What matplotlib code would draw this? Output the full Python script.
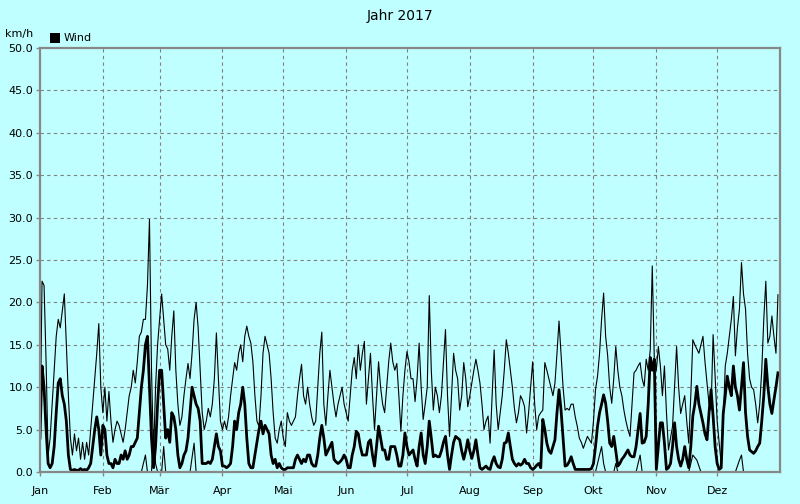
"""
Wind 2017 - Jahresübersicht (Tagesmittel, Böen, Minimum)
"""

import numpy as np
import pandas as pd
import matplotlib
matplotlib.use("Agg")
import matplotlib.pyplot as plt
from matplotlib.patches import Rectangle

# Böen (dünne Linie), ein Wert pro Tag, km/h
gust = [
    3, 22.5, 22, 13, 2, 4, 8, 12, 16, 18,
    17, 19, 21, 15, 9, 4, 2, 4.5, 2.5, 4,
    1.5, 3.5, 1.5, 3.5, 2, 5, 8, 11, 14, 17.5,
    10, 7, 10, 6, 9.5, 6, 3.5, 5, 6, 5.5,
    4.5, 3.5, 5, 7, 9, 10, 12, 10.5, 13, 16,
    16.5, 18, 18, 22, 29.8, 12, 2, 10, 15, 18,
    21, 18, 15, 14.5, 12, 16, 19, 12, 8, 5.5,
    6.5, 9, 11, 12.8, 11, 14, 18, 20, 17, 12,
    7, 5, 6, 7.5, 6.5, 8, 11, 16.4, 11, 6,
    5, 6, 5, 6.5, 9, 11, 12.9, 12, 14, 15,
    13, 16, 17.2, 16, 15.2, 13, 9, 6, 5.4, 9,
    14, 16, 15, 14, 11, 7, 4, 3.4, 5, 6,
    4, 3, 7, 6, 5.5, 6, 6.5, 9, 11, 12.7,
    9, 8, 10, 8, 6.5, 5.5, 6, 10, 14, 16.5,
    8, 5.5, 9, 12, 10, 8, 6.5, 8, 9, 10,
    8, 7, 6, 9, 12, 13.5, 11, 15, 12, 14,
    15.4, 8, 11, 14, 9, 5, 9, 13, 10, 8,
    7, 10, 13, 15.2, 13, 12, 12.8, 9, 4.8, 9,
    12, 14.2, 13, 11, 11, 8.3, 11, 15.2, 10, 6.2,
    8, 10, 20.8, 12, 7.3, 10, 9, 7, 9, 13,
    16.8, 9, 4.2, 9, 14, 12, 11, 7.3, 9, 12.9,
    11, 7.7, 9, 10.5, 12, 13.3, 12, 10.5, 8, 5,
    6, 6.6, 3.4, 9, 14.4, 8, 5, 7, 9, 12,
    15.6, 14, 12, 10, 7.5, 5.8, 7, 9, 8.5, 7.7,
    4.6, 7, 10, 13, 8, 5, 6.6, 7, 7.3, 12.9,
    12, 11, 10, 9, 10.5, 14, 17.8, 14, 10, 7.3,
    7.5, 7.3, 8, 8, 6.5, 5.4, 4, 3.5, 2.8, 3.5,
    4.2, 3.8, 3.4, 6, 9.7, 11.3, 14, 18, 21.1, 16,
    13.7, 10, 8.1, 11, 14.8, 12, 10, 9, 7.3, 6,
    5, 4.2, 8, 11.7, 12, 12.5, 12.9, 11, 10.1, 13.3,
    12, 14.4, 24.3, 13.3, 12, 14.8, 12.5, 9, 12.5, 7,
    2.6, 4, 5.4, 10, 14.8, 10, 6.9, 8, 9, 6,
    3.4, 9, 15.6, 15, 14.5, 14, 15, 16, 13, 10.5,
    8, 7.3, 16.2, 11.3, 6, 3.4, 1, 6, 12.5, 14,
    16, 18, 20.7, 13.7, 17, 19.2, 24.7, 21, 19.2, 14,
    11, 10, 9.7, 8, 5.8, 8, 12, 18, 22.5, 15.2,
    16, 18.4, 16, 14, 20.9,
]

# Mittelwind (dicke Linie), ein Wert pro Tag, km/h
wind = [
    4, 12.5, 10, 5, 1, 0.5, 1, 3, 7, 10.5,
    11, 9, 8, 6, 2, 0.3, 0.2, 0.3, 0.2, 0.2,
    0.4, 0.2, 0.3, 0.2, 0.5, 1, 3, 5, 6.5, 5,
    2, 5.5, 5, 2, 1, 1, 0.5, 1.5, 1, 1,
    2, 1.5, 2.5, 1.5, 2, 3, 3, 3.5, 4, 7,
    10, 12, 15, 16, 10, 4, 0.5, 3, 8, 12,
    12, 8, 4, 5, 3.5, 7, 6.5, 5, 2, 0.5,
    1, 2, 2.5, 4, 7, 10, 9, 8, 7.5, 6,
    1, 1, 1, 1.2, 1, 1.5, 3, 4.5, 3, 2.5,
    0.7, 0.7, 0.5, 0.7, 1, 3, 6, 5, 7, 8,
    10, 8, 4, 1, 0.5, 0.5, 2, 3.5, 5, 6,
    4.5, 5.5, 5, 4.5, 2, 1, 1.5, 0.5, 1, 0.5,
    0.3, 0.3, 0.5, 0.5, 0.5, 0.5, 1.5, 2, 1.5, 1,
    1.5, 1.2, 2, 2, 1, 0.7, 0.7, 2, 4, 5.5,
    4, 2, 2.5, 3, 3.5, 1.5, 1.2, 1, 1.2, 1.5,
    2, 1.5, 0.5, 0.5, 2, 3, 4.8, 4.5, 3, 2,
    2, 2, 3.5, 3.8, 2, 0.7, 3, 5.4, 4, 2.6,
    2.6, 1.5, 1.5, 3, 3, 3, 2, 0.7, 0.7, 2,
    4.6, 3, 2, 2.3, 2.6, 1.5, 0.7, 3, 4.6, 2,
    1, 3, 6, 4, 1.8, 2, 1.8, 1.8, 2.5, 3.5,
    4.2, 2, 0.3, 2, 3.5, 4.2, 4, 3.8, 2.5, 1.5,
    2.5, 3.8, 2.5, 1.6, 2.5, 3.8, 2, 0.5, 0.3, 0.5,
    0.7, 0.4, 0.3, 1.2, 1.8, 1, 0.6, 0.5, 1.5, 3.4,
    3.5, 4.6, 3, 1.5, 1, 0.7, 1, 0.8, 1, 1.5,
    1, 1, 0.5, 0.3, 0.5, 0.8, 1, 0.5, 6.2, 5,
    3.4, 2.5, 2.2, 3, 3.8, 7, 9.7, 7.3, 4, 0.7,
    0.8, 1.2, 1.8, 1, 0.3, 0.3, 0.3, 0.3, 0.3, 0.3,
    0.3, 0.3, 0.4, 1, 3, 5.4, 7, 8, 9.1, 8.1,
    6, 3.4, 3, 4.2, 2.5, 0.7, 1, 1.5, 1.8, 2.2,
    2.6, 2, 1.8, 1.8, 3, 5, 6.9, 3.4, 3.5, 4.2,
    8, 13.5, 12, 13.3, 0.3, 3, 5.8, 5.8, 3.4, 0.3,
    0.5, 1, 3, 5.8, 3, 1.5, 0.7, 1.5, 3, 1.5,
    0.5, 3, 6.6, 8, 10.1, 8, 6.9, 5.8, 4.5, 3.8,
    7, 9.7, 6.6, 3, 1, 0.3, 0.5, 6.9, 9, 11.3,
    10, 9, 12.5, 10, 9, 7.3, 10, 12.9, 7, 4.2,
    2.6, 2.4, 2.2, 2.5, 3, 3.4, 6, 9, 13.3, 10.1,
    8, 6.9, 8.5, 10, 11.7,
]

# Minimum (dünne Linie unten), nur wenige Ausschläge
min_day = [0, 50, 52, 53, 55, 56, 57, 58, 60, 61, 62, 74, 76, 77,
           274, 276, 277, 278, 279, 283, 284, 285, 294, 296, 297,
           320, 322, 324, 326, 343, 345, 346, 347, 364]
min_val = [0, 0, 2, 0, 0, 5, 1, 0, 0, 3, 0, 0, 3.4, 0,
           0, 2, 3, 1, 0, 0, 1, 0, 0, 2, 0,
           0, 2, 1.4, 0, 0, 1.4, 2, 0, 0]

month_labels = ["Jan", "Feb", "Mär", "Apr", "Mai", "Jun",
                "Jul", "Aug", "Sep", "Okt", "Nov", "Dez"]

BG = "#C0FFFF"
FRAME = "#888888"

start = pd.Timestamp("2017-01-01")
days = pd.date_range(start, periods=len(gust), freq="D")
min_dates = start + pd.to_timedelta(min_day, unit="D")
month_starts = pd.date_range(start, periods=12, freq="MS")

fig = plt.figure(figsize=(8, 5.04), dpi=100, facecolor=BG)
ax = fig.add_axes([40 / 800, 32 / 504, 740 / 800, 424 / 504], facecolor=BG)

ax.plot(days, gust, color="black", lw=0.8, zorder=3)
ax.plot(min_dates, min_val, color="black", lw=0.8, zorder=3)
ax.plot(days, wind, color="black", lw=2.0, zorder=4)

ax.set_xlim(start, pd.Timestamp("2018-01-01"))
ax.set_ylim(0, 50)

ax.set_xticks(month_starts)
ax.set_xticklabels(month_labels)
yt = np.arange(0, 50.1, 5)
ax.set_yticks(yt)
ax.set_yticklabels([f"{v:.1f}" for v in yt])

# gestricheltes Raster
for d in month_starts[1:]:
    ax.axvline(d, color="#808080", lw=0.8, ls=(0, (3, 3)), zorder=1)
for v in yt[1:-1]:
    ax.axhline(v, color="#808080", lw=0.8, ls=(0, (3, 3)), zorder=1)

for s in ax.spines.values():
    s.set_color(FRAME)
    s.set_linewidth(1.6)
    s.set_zorder(5)

ax.tick_params(axis="both", colors=FRAME, length=3, width=1,
               labelcolor="black", labelsize=8, pad=2)
ax.tick_params(axis="x", pad=7)

fig.text(0.5, 1 - 16 / 504, "Jahr 2017", ha="center", va="center", fontsize=10)
fig.text(5 / 800, 1 - 34 / 504, "km/h", ha="left", va="center", fontsize=8)
fig.patches.append(Rectangle((50 / 800, 1 - 43 / 504), 10 / 800, 10 / 504,
                             transform=fig.transFigure, facecolor="black",
                             edgecolor="none"))
fig.text(64 / 800, 1 - 38 / 504, "Wind", ha="left", va="center", fontsize=8)

fig.savefig("out.png", dpi=100, facecolor=BG)
